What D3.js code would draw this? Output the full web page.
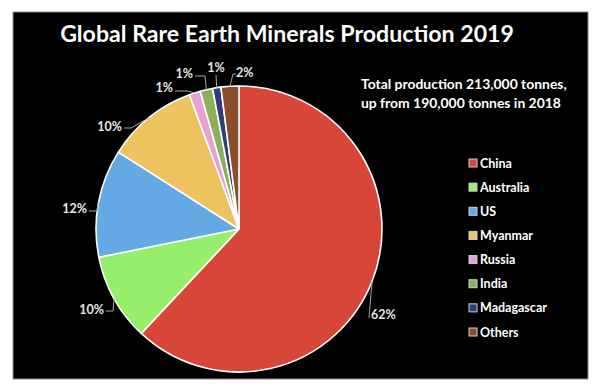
<!DOCTYPE html>
<html>
<head>
<meta charset="utf-8">
<script src="https://cdn.jsdelivr.net/npm/d3@7"></script>
<style>
  body { margin: 0; background: #fff; }
  text { font-family: Lato, "Open Sans", sans-serif; font-weight: bold; }
</style>
</head>
<body>
<svg id="chart" width="600" height="386"></svg>
<script>
// production 2019, thousand tonnes (total 213)
const countries = ["China", "Australia", "US", "Myanmar", "Russia", "India", "Madagascar", "Others"]
const production = [132, 21, 26, 22, 2.7, 3, 2, 4.3]
const colors = ["#d8463a", "#97ee6a", "#63aae5", "#eec25e", "#e8a2d2", "#8cb05a", "#2c3f78", "#8a4e2a"]

// label spots (text anchor point) and elbow, hand placed like the original
const labelLayout = [
  { x: 371, y: 319, anchor: "start", elbow: [369, 318] },
  { x: 104, y: 314, anchor: "end", elbow: [113, 311], end: [106, 311] },
  { x: 87, y: 213, anchor: "end", elbow: [97, 211], end: [89, 211] },
  { x: 122, y: 131, anchor: "end", elbow: [131, 128], end: [124, 128] },
  { x: 173, y: 92, anchor: "end", elbow: [187, 91], end: [175, 91] },
  { x: 193, y: 78, anchor: "end", elbow: [205, 76], end: [195, 76] },
  { x: 216, y: 72, anchor: "middle", elbow: [216, 75] },
  { x: 236, y: 77, anchor: "start", elbow: [233, 74], end: [236, 74] }
]

const svg = d3.select("#chart")

svg.append("rect")
  .attr("x", 13).attr("y", 12)
  .attr("width", 575).attr("height", 367)
  .attr("fill", "#000")
  .attr("stroke", "#8c8c8c")
  .attr("stroke-width", 1)

const title = svg.append("text")
  .attr("x", 287).attr("y", 42)
  .attr("text-anchor", "middle")
  .attr("fill", "#fff")
  .attr("font-size", 22)
  .text("Global Rare Earth Minerals Production 2019")
// fit to the width the original title takes
let tw = title.node().getComputedTextLength()
title.attr("font-size", 22 * 454 / tw)

const sub = svg.append("g").attr("fill", "#fff").attr("font-size", 12.5)
const subLines = ["Total production 213,000 tonnes,", "up from 190,000 tonnes in 2018"]
sub.selectAll("text").data(subLines).enter().append("text")
  .attr("x", 361)
  .attr("y", (d, i) => 89 + i * 19)
  .text(d => d)
sub.select("text").each(function() {
  let w = this.getComputedTextLength()
  sub.attr("font-size", 12.5 * 206 / w)
})

// pie
const cx = 239, cy = 229, r = 143
const pie = d3.pie().sort(null).value(d => d)
const arcs = pie(production)
const arc = d3.arc().innerRadius(0).outerRadius(r)

const g = svg.append("g").attr("transform", `translate(${cx},${cy})`)
g.selectAll("path")
  .data(arcs)
  .enter()
  .append("path")
  .attr("d", arc)
  .attr("fill", (d, i) => colors[i])
  .attr("stroke", "#fff")
  .attr("stroke-width", 1.6)
  .attr("stroke-linejoin", "round")

const total = d3.sum(production)
const fmt = d3.format(".0%")

// leader lines
svg.append("g")
  .selectAll("path")
  .data(arcs)
  .enter()
  .append("path")
  .attr("fill", "none")
  .attr("stroke", "#a6a6a6")
  .attr("stroke-width", 1)
  .attr("d", (d, i) => {
    let a = (d.startAngle + d.endAngle) / 2
    let ex = cx + r * Math.sin(a)
    let ey = cy - r * Math.cos(a)
    let L = labelLayout[i]
    let p = "M" + ex + "," + ey + "L" + L.elbow[0] + "," + L.elbow[1]
    if (L.end) p += "L" + L.end[0] + "," + L.end[1]
    return p
  })

svg.append("g")
  .attr("fill", "#e6e6e6")
  .attr("font-size", 12.5)
  .selectAll("text")
  .data(arcs)
  .enter()
  .append("text")
  .attr("x", (d, i) => labelLayout[i].x)
  .attr("y", (d, i) => labelLayout[i].y)
  .attr("text-anchor", (d, i) => labelLayout[i].anchor)
  .text(d => fmt(d.value / total))

// legend
const legendY = d3.scalePoint()
  .domain(countries)
  .range([163, 332])

const legend = svg.append("g")
  .selectAll("g")
  .data(countries)
  .enter()
  .append("g")
  .attr("transform", d => `translate(469,${legendY(d)})`)

legend.append("rect")
  .attr("x", 0).attr("y", -4)
  .attr("width", 8).attr("height", 8)
  .attr("fill", (d, i) => colors[i])
  .attr("stroke", "#d0d0d0")
  .attr("stroke-width", 1)

legend.append("text")
  .attr("x", 11)
  .attr("y", 4.5)
  .attr("fill", "#fff")
  .attr("font-size", 12.5)
  .text(d => d)
</script>
</body>
</html>
